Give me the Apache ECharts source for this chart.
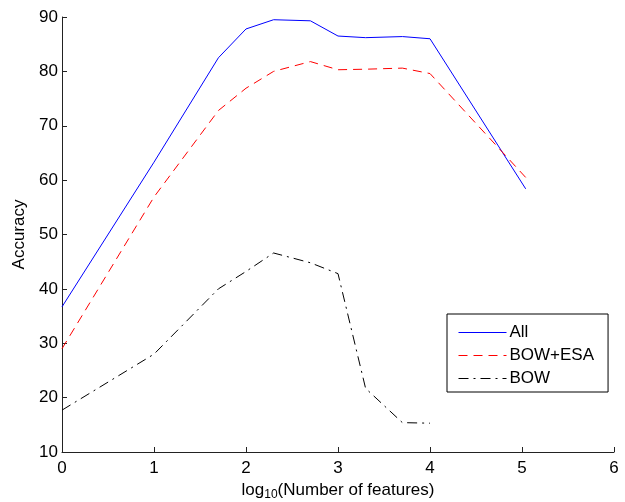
<!DOCTYPE html>
<html>
<head>
<meta charset="utf-8">
<script src="https://cdn.jsdelivr.net/npm/echarts@6/dist/echarts.min.js"></script>
<style>
  html, body { margin: 0; padding: 0; background: #fff; }
  #chart { width: 625px; height: 502px; }
</style>
</head>
<body>
<div id="chart"></div>
<script>
// log10(number of features) for each run
var xAll = [0, 1, 1.7, 2, 2.3, 2.7, 3, 3.3, 3.7, 4, 5.04];
var accAll = [36.7, 63.3, 82.5, 87.8, 89.5, 89.3, 86.5, 86.2, 86.4, 86.0, 58.4];

var xEsa = [0, 1, 1.7, 2, 2.3, 2.7, 3, 3.3, 3.7, 4, 5.04];
var accEsa = [29.0, 56.9, 72.8, 76.9, 80.0, 81.8, 80.3, 80.4, 80.6, 79.6, 60.5];

var xBow = [0, 1, 1.7, 2, 2.3, 2.7, 3, 3.3, 3.7, 4];
var accBow = [17.7, 28.0, 40.0, 43.2, 46.6, 44.8, 42.8, 21.7, 15.4, 15.3];

var yTicks = [10, 20, 30, 40, 50, 60, 70, 80, 90];
var xTicks = [0, 1, 2, 3, 4, 5, 6];

function pairs(xs, ys) {
	var out = [];
	for (var i = 0; i < xs.length; i++) {
		out.push([xs[i], ys[i]]);
	}
	return out;
}

var font = 'Liberation Sans, Arial, sans-serif';
var dom = document.getElementById('chart');
var myChart = echarts.init(dom, null, { renderer: 'canvas' });

var axisLine = { show: true, lineStyle: { color: '#222', width: 1 } };
var axisTick = { show: true, inside: true, length: 5, lineStyle: { color: '#222' } };

// line styles shared by series and legend
var styleAll = { color: '#0000ff', width: 1, type: 'solid' };
var styleEsa = { color: '#ff0000', width: 1, type: [9, 6] };
var styleBow = { color: '#000000', width: 1, type: [10, 5, 2, 5] };

var option = {
	animation: false,
	backgroundColor: '#fff',
	grid: { left: 62, right: 11, top: 17, bottom: 50, containLabel: false, outerBoundsMode: 'none' },
	xAxis: {
		type: 'value',
		min: xTicks[0],
		max: xTicks[xTicks.length - 1],
		interval: 1,
		axisLine: axisLine,
		axisTick: axisTick,
		splitLine: { show: false },
		axisLabel: { color: '#000', fontSize: 17, fontFamily: font, margin: 8 },
		name: '{a|log}{b|10}{a|(Number of features)}',
		nameLocation: 'middle',
		nameGap: 22,
		nameTextStyle: {
			fontFamily: font,
			color: '#000',
			rich: {
				a: { fontSize: 17, fontFamily: font, color: '#000' },
				b: { fontSize: 12, fontFamily: font, color: '#000', verticalAlign: 'bottom', padding: [8, 0, 0, 0] }
			}
		}
	},
	yAxis: {
		type: 'value',
		min: yTicks[0],
		max: yTicks[yTicks.length - 1],
		interval: 10,
		axisLine: axisLine,
		axisTick: axisTick,
		splitLine: { show: false },
		axisLabel: { color: '#000', fontSize: 17, fontFamily: font, margin: 4 },
		name: 'Accuracy',
		nameLocation: 'middle',
		nameGap: 28,
		nameTextStyle: { fontSize: 17, fontFamily: font, color: '#000' }
	},
	legend: {
		left: 447,
		top: 314,
		orient: 'vertical',
		backgroundColor: '#fff',
		borderColor: '#000',
		borderWidth: 1,
		borderRadius: 0,
		padding: [10, 14, 5, 11],
		itemWidth: 48,
		itemHeight: 14,
		itemGap: 6,
		itemStyle: { opacity: 0 },
		textStyle: { fontSize: 17, fontFamily: font, color: '#000', padding: [0, 0, 0, -2] },
		data: [
			{ name: 'All', lineStyle: styleAll },
			{ name: 'BOW+ESA', lineStyle: styleEsa },
			{ name: 'BOW', lineStyle: styleBow }
		]
	},
	series: [
		{
			name: 'All',
			type: 'line',
			symbol: 'none',
			lineStyle: styleAll,
			itemStyle: { color: '#0000ff' },
			data: pairs(xAll, accAll)
		},
		{
			name: 'BOW+ESA',
			type: 'line',
			symbol: 'none',
			lineStyle: styleEsa,
			itemStyle: { color: '#ff0000' },
			data: pairs(xEsa, accEsa)
		},
		{
			name: 'BOW',
			type: 'line',
			symbol: 'none',
			lineStyle: styleBow,
			itemStyle: { color: '#000' },
			data: pairs(xBow, accBow)
		}
	]
};

myChart.setOption(option, true);
</script>
</body>
</html>
